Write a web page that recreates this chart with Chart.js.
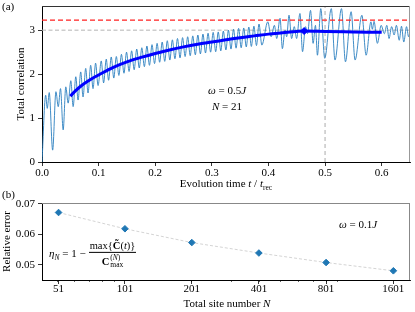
<!DOCTYPE html>
<html>
<head>
<meta charset="utf-8">
<script src="https://cdn.jsdelivr.net/npm/chart.js@4.4.0/dist/chart.umd.min.js"></script>
<style>
  html, body { margin: 0; padding: 0; background: #fff; }
  #wrap { position: relative; width: 415px; height: 312px; overflow: hidden;
          font-family: "Liberation Serif", "DejaVu Serif", serif; color: #000; }
  canvas { position: absolute; left: 0; }
  #chartA { top: 0; }
  #chartB { top: 192px; }
  .lbl { position: absolute; font-size: 11px; line-height: 1; white-space: nowrap;
         transform: translate(-50%, -50%); }
  .plain { position: absolute; font-size: 11px; line-height: 1; white-space: nowrap; }
  .formula { position: absolute; font-size: 11px; white-space: nowrap; display: flex;
             align-items: center; transform: translateY(-50%); }
  .frac { display: inline-flex; flex-direction: column; align-items: center; margin-left: 3px; }
  .frac .num { border-bottom: 0.8px solid #000; padding: 0 1px 1px; font-size: 10.5px; }
  .frac .den { padding-top: 1px; font-size: 10.5px; display: flex; align-items: center; }
  .ss { display: inline-flex; flex-direction: column; font-size: 7.5px; line-height: 0.95; margin-left: 1px; }
  sub { font-size: 7.5px; }
</style>
</head>
<body>
<div id="wrap">
  <canvas id="chartA" width="415" height="192"></canvas>
  <canvas id="chartB" width="415" height="120"></canvas>

  <div class="plain" style="left:2px;top:1px;">(a)</div>
  <div class="plain" style="left:2px;top:189px;">(b)</div>

  <div class="lbl" style="left:227px;top:90px;"><i>ω</i> = 0.5<i>J</i></div>
  <div class="lbl" style="left:227px;top:106px;"><i>N</i> = 21</div>
  <div class="lbl" style="left:226px;top:185px;">Evolution time <i>t</i> / <i>t</i><sub>rec</sub></div>

  <div class="lbl" style="left:358px;top:224px;"><i>ω</i> = 0.1<i>J</i></div>
  <div class="lbl" style="left:227px;top:303px;">Total site number <i>N</i></div>
  <div class="formula" style="left:49px;top:254px;">
    <span><i>η</i><sub><i>N</i></sub> = 1 − </span>
    <span class="frac">
      <span class="num">max{<b>C&#771;</b>(<i>t</i>)}</span>
      <span class="den"><b>C</b><span class="ss"><span>(<i>N</i>)</span><span>max</span></span></span>
    </span>
  </div>
</div>

<script>
// ---------- panel (a): total correlation vs time ----------
const xTicksA = [0.0, 0.1, 0.2, 0.3, 0.4, 0.5, 0.6];
const yTicksA = [0, 1, 2, 3];

// thin oscillating trace (peaks and troughs)
const tThin = [
  0, 0.0065, 0.0093, 0.0128, 0.0188, 0.0246, 0.0287, 0.0327, 0.0374, 0.042, 0.0462, 0.0509, 0.055,
  0.0597, 0.0637, 0.0684, 0.0725, 0.0772, 0.0813, 0.086, 0.0901, 0.0947, 0.099, 0.1047, 0.1088, 0.1135, 0.1176, 0.1223, 0.1268,
  0.1313, 0.1358, 0.1403, 0.1448, 0.1493, 0.1538, 0.1583, 0.1628, 0.1673, 0.1718,
  0.1763, 0.1808, 0.1853, 0.1898, 0.1943, 0.1988, 0.2033, 0.2078, 0.2123, 0.2168,
  0.2213, 0.2258, 0.2303, 0.2348, 0.2393, 0.2438, 0.2483, 0.2528, 0.2573, 0.2618,
  0.2663, 0.2708, 0.2753, 0.2798, 0.2843, 0.2888, 0.2933, 0.2978, 0.3023, 0.3068,
  0.3113, 0.3158, 0.3203, 0.3248, 0.3293, 0.3338, 0.3383, 0.3428, 0.3473, 0.3518,
  0.3563, 0.3608, 0.3653, 0.3698, 0.3743, 0.3788, 0.3833, 0.3883,
  0.3988, 0.4047, 0.4105, 0.4146, 0.4205, 0.4246, 0.4292, 0.4322, 0.4363, 0.4409,
  0.4456, 0.4497, 0.4556, 0.4602, 0.4655, 0.469, 0.4743, 0.4789, 0.483, 0.4865,
  0.4924, 0.4994, 0.511, 0.5175, 0.529, 0.536, 0.546, 0.553, 0.565, 0.5725,
  0.581, 0.5835, 0.5865, 0.5924, 0.599, 0.6047, 0.609, 0.613, 0.6175, 0.622,
  0.626, 0.631, 0.635, 0.639, 0.6439, 0.6475, 0.65
];
const yThin = [
  0, 1.52, 1.22, 1.58, 0.27, 1.60, 1.26, 1.67, 0.73, 1.71, 1.34, 1.85, 1.26,
  1.94, 1.41, 2.05, 1.48, 2.13, 1.57, 2.20, 1.67, 2.25, 1.74, 2.30, 1.80, 2.34, 1.86, 2.39, 1.91,
  2.40, 1.97, 2.45, 2.02, 2.50, 2.06, 2.53, 2.10, 2.57, 2.14,
  2.60, 2.17, 2.64, 2.20, 2.67, 2.24, 2.70, 2.27, 2.73, 2.29,
  2.76, 2.32, 2.78, 2.35, 2.81, 2.37, 2.83, 2.40, 2.85, 2.42,
  2.87, 2.44, 2.89, 2.46, 2.91, 2.48, 2.93, 2.50, 2.95, 2.51,
  2.96, 2.53, 2.98, 2.55, 3.00, 2.57, 3.02, 2.59, 3.04, 2.60,
  3.05, 2.62, 3.07, 2.63, 3.09, 2.65, 3.14, 2.66,
  3.19, 2.85, 3.11, 2.81, 3.27, 2.58, 3.00, 2.85, 3.34, 2.81,
  3.08, 2.81, 3.38, 2.51, 3.08, 2.92, 3.45, 2.70, 3.11, 2.43,
  3.49, 2.36, 3.49, 2.32, 3.49, 2.28, 3.42, 2.32, 3.34, 2.43,
  3.19, 3.02, 3.20, 2.70, 3.11, 2.92, 3.11, 2.81, 3.08, 2.89,
  3.11, 2.77, 3.09, 2.73, 3.08, 2.85, 2.95
];

// thick smoothed curve
const tThick = [0.05, 0.06, 0.07, 0.08, 0.09, 0.10, 0.125, 0.15, 0.175, 0.2, 0.225, 0.25,
                0.275, 0.3, 0.325, 0.35, 0.375, 0.4, 0.425, 0.45, 0.463, 0.5, 0.55, 0.6];
const yThick = [1.50, 1.63, 1.74, 1.83, 1.91, 1.98, 2.15, 2.28, 2.38, 2.47, 2.55, 2.62,
                2.68, 2.73, 2.78, 2.83, 2.87, 2.91, 2.94, 2.97, 2.98, 2.97, 2.96, 2.95];

const peakT = 0.463;
const peakY = 2.98;
const redLevel = 3.23;
const grayLevel = 3.0;
const grayTime = 0.5;

// ---------- panel (b): relative error vs N ----------
const siteN = [51, 101, 201, 401, 801, 1601];
const relErr = [0.0671, 0.0618, 0.0573, 0.0539, 0.0508, 0.0481];
const yTicksB = [0.05, 0.06, 0.07];
const minorTicksB = [50, 60, 70, 80, 90, 200, 300, 400, 500, 600, 700, 800, 900];

const SERIF = '"Liberation Serif", "DejaVu Serif", serif';
const tickFont = { family: SERIF, size: 11 };

if (tThin.length !== yThin.length) console.warn('thin trace length mismatch', tThin.length, yThin.length);

const zip = (xs, ys) => xs.map((x, i) => ({ x, y: ys[i] }));

// top and right spines like matplotlib
function framePlugin(topColor, rightColor) {
  return {
    id: 'frame',
    afterDraw(chart) {
      const { ctx, chartArea: a } = chart;
      ctx.save();
      ctx.lineWidth = 1;
      ctx.strokeStyle = topColor;
      ctx.beginPath();
      ctx.moveTo(a.left, a.top + 0.5);
      ctx.lineTo(a.right, a.top + 0.5);
      ctx.stroke();
      ctx.strokeStyle = rightColor;
      ctx.beginPath();
      ctx.moveTo(a.right - 0.5, a.top);
      ctx.lineTo(a.right - 0.5, a.bottom);
      ctx.stroke();
      ctx.restore();
    }
  };
}

// small minor ticks on the log axis
const minorTickPlugin = {
  id: 'minorTicks',
  afterDraw(chart) {
    const { ctx, chartArea: a } = chart;
    const sx = chart.scales.x;
    ctx.save();
    ctx.strokeStyle = '#000';
    ctx.lineWidth = 0.6;
    minorTicksB.forEach((v) => {
      const px = Math.round(sx.getPixelForValue(v)) + 0.5;
      ctx.beginPath();
      ctx.moveTo(px, a.bottom);
      ctx.lineTo(px, a.bottom + 2);
      ctx.stroke();
    });
    ctx.restore();
  }
};

function axisCommon() {
  return {
    grid: { display: true, drawOnChartArea: false, drawTicks: true, tickLength: 4, color: '#000', lineWidth: 0.8 },
    border: { display: true, color: '#000', width: 1 },
  };
}

const xMinA = 0, xMaxA = 0.65, yMinA = 0, yMaxA = 3.55;

new Chart(document.getElementById('chartA'), {
  type: 'scatter',
  data: {
    datasets: [
      { data: [{ x: peakT, y: peakY }], pointStyle: 'rectRot', pointRadius: 3.5,
        backgroundColor: '#0000ff', borderColor: '#0000ff', borderWidth: 1, order: 0 },
      { data: zip(tThick, yThick), showLine: true, borderColor: '#0000ff', borderWidth: 3,
        pointRadius: 0, cubicInterpolationMode: 'monotone', order: 1 },
      { data: [{ x: xMinA, y: redLevel }, { x: xMaxA, y: redLevel }], showLine: true,
        borderColor: '#ff2020', borderWidth: 1.3, borderDash: [5, 3], pointRadius: 0, order: 2 },
      { data: zip(tThin, yThin), showLine: true, borderColor: '#2a7fc0', borderWidth: 0.9,
        pointRadius: 0, cubicInterpolationMode: 'monotone', order: 3 },
      { data: [{ x: xMinA, y: grayLevel }, { x: xMaxA, y: grayLevel }], showLine: true,
        borderColor: '#b4b4b4', borderWidth: 1, borderDash: [4, 2.5], pointRadius: 0, order: 4 },
      { data: [{ x: grayTime, y: yMinA }, { x: grayTime, y: yMaxA }], showLine: true,
        borderColor: '#c8c8c8', borderWidth: 1.5, borderDash: [4, 3], pointRadius: 0, order: 5 },
    ]
  },
  options: {
    responsive: false,
    animation: false,
    events: [],
    layout: { padding: { left: 0, right: 4, top: 6, bottom: 0 } },
    plugins: { legend: { display: false }, tooltip: { enabled: false } },
    scales: {
      x: {
        type: 'linear', min: xMinA, max: xMaxA,
        ...axisCommon(),
        afterBuildTicks: (s) => { s.ticks = xTicksA.map((v) => ({ value: v })); },
        afterFit: (s) => { s.height = 30; s.paddingLeft = 0; s.paddingRight = 0; },
        ticks: { font: tickFont, color: '#000', padding: 1, maxRotation: 0, autoSkip: false,
                 callback: (v) => Number(v).toFixed(1) },
      },
      y: {
        type: 'linear', min: yMinA, max: yMaxA,
        ...axisCommon(),
        afterBuildTicks: (s) => { s.ticks = yTicksA.map((v) => ({ value: v })); },
        afterFit: (s) => { s.width = 42; s.paddingTop = 0; s.paddingBottom = 0; },
        ticks: { font: tickFont, color: '#000', padding: 3, callback: (v) => String(v) },
        title: { display: true, text: 'Total correlation', font: tickFont, color: '#000',
                 padding: { top: 15, bottom: 0 } },
      },
    },
  },
  plugins: [framePlugin('#333333', '#999999')],
});

new Chart(document.getElementById('chartB'), {
  type: 'scatter',
  data: {
    datasets: [
      { data: zip(siteN, relErr), pointStyle: 'rectRot', pointRadius: 3.3,
        backgroundColor: '#1f77b4', borderColor: '#1f77b4', borderWidth: 1, order: 0 },
      { data: zip(siteN, relErr), showLine: true, borderColor: '#cfcfcf', borderWidth: 0.9,
        borderDash: [3, 2], pointRadius: 0, order: 1 },
    ]
  },
  options: {
    responsive: false,
    animation: false,
    events: [],
    layout: { padding: { left: 0, right: 4, top: 11, bottom: 0 } },
    plugins: { legend: { display: false }, tooltip: { enabled: false } },
    scales: {
      x: {
        type: 'logarithmic', min: 43, max: 1900,
        ...axisCommon(),
        afterBuildTicks: (s) => { s.ticks = siteN.map((v) => ({ value: v })); },
        afterFit: (s) => { s.height = 32; s.paddingLeft = 0; s.paddingRight = 0; },
        ticks: { font: tickFont, color: '#000', padding: -1, maxRotation: 0, autoSkip: false,
                 callback: (v) => String(v) },
      },
      y: {
        type: 'linear', min: 0.0451, max: 0.0702,
        ...axisCommon(),
        afterBuildTicks: (s) => { s.ticks = yTicksB.map((v) => ({ value: v })); },
        afterFit: (s) => { s.width = 42; s.paddingTop = 0; s.paddingBottom = 0; },
        ticks: { font: tickFont, color: '#000', padding: 3, callback: (v) => Number(v).toFixed(2) },
        title: { display: true, text: 'Relative error', font: tickFont, color: '#000',
                 padding: { top: 1, bottom: 0 } },
      },
    },
  },
  plugins: [framePlugin('#888888', '#888888'), minorTickPlugin],
});
</script>
</body>
</html>
